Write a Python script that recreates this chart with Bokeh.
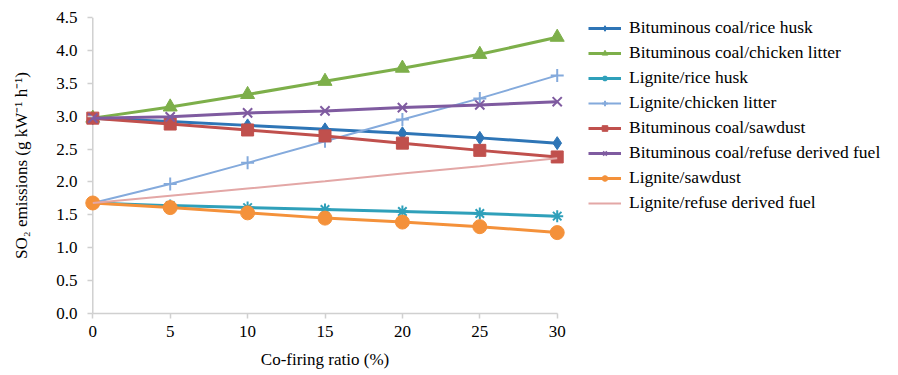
from bokeh.plotting import figure
from bokeh.models import Legend, LegendItem, Range1d, FixedTicker, CustomJSTickFormatter, Span
from bokeh.embed import file_html
from bokeh.resources import INLINE

ratios = [0, 5, 10, 15, 20, 25, 30]

bit_rice = [2.97, 2.92, 2.86, 2.80, 2.74, 2.67, 2.59]
bit_chicken = [2.97, 3.14, 3.33, 3.53, 3.73, 3.94, 4.20]
lig_rice = [1.68, 1.64, 1.61, 1.58, 1.55, 1.52, 1.48]
lig_chicken = [1.68, 1.97, 2.29, 2.62, 2.95, 3.27, 3.62]
bit_saw = [2.97, 2.88, 2.79, 2.70, 2.59, 2.48, 2.38]
bit_rdf = [2.97, 2.99, 3.05, 3.08, 3.13, 3.17, 3.22]
lig_saw = [1.68, 1.61, 1.53, 1.45, 1.39, 1.32, 1.23]
lig_rdf = [1.68, 1.79, 1.90, 2.01, 2.13, 2.24, 2.36]

names = ["Bituminous coal/rice husk", "Bituminous coal/chicken litter",
         "Lignite/rice husk", "Lignite/chicken litter",
         "Bituminous coal/sawdust", "Bituminous coal/refuse derived fuel",
         "Lignite/sawdust", "Lignite/refuse derived fuel"]
series = [bit_rice, bit_chicken, lig_rice, lig_chicken, bit_saw, bit_rdf, lig_saw, lig_rdf]
colors = ["#2E75B6", "#7DAF4A", "#2FA0BA", "#84AADC", "#C0504D", "#7F5BA0", "#F4913A", "#E3A7A6"]
markers = ["diamond", "triangle", "asterisk", "cross", "square", "x", "circle", None]
sizes = [13, 14, 12, 13, 12, 13, 14, 0]
widths = [3, 3, 3, 2, 3, 3, 3, 2]

y_ticks = [0.0, 0.5, 1.0, 1.5, 2.0, 2.5, 3.0, 3.5, 4.0, 4.5]
x_ticks = [0, 5, 10, 15, 20, 25, 30]

FONT = "Liberation Serif"
AXIS_GREY = "#D0D0D0"

p = figure(frame_width=483, frame_height=296, output_backend="svg", toolbar_location=None,
           x_range=Range1d(-0.6, 30.6), y_range=Range1d(0, 4.5),
           min_border_left=83, min_border_top=17, min_border_bottom=62, min_border_right=332)
p.outline_line_color = None
p.xgrid.grid_line_color = None
p.ygrid.grid_line_color = None

# y axis line drawn at x = 0
p.add_layout(Span(location=0, dimension="height", line_color=AXIS_GREY,
                  line_width=1.5, level="underlay"))

items = []
for name, ys, c, m, s, w in zip(names, series, colors, markers, sizes, widths):
    rs = []
    r = p.line(ratios, ys, line_color=c, line_width=w)
    rs.append(r)
    if m is not None:
        if m in ("asterisk", "cross", "x"):
            sc = p.scatter(ratios, ys, marker=m, size=s, line_color=c, line_width=2)
        else:
            sc = p.scatter(ratios, ys, marker=m, size=s, fill_color=c, line_color=c)
        rs.append(sc)
    items.append(LegendItem(label=name, renderers=rs))

for ax in (p.xaxis[0], p.yaxis[0]):
    ax.axis_line_color = AXIS_GREY
    ax.axis_line_width = 1.5
    ax.major_tick_line_color = AXIS_GREY
    ax.major_tick_line_width = 1.5
    ax.major_tick_out = 5
    ax.major_tick_in = 0
    ax.minor_tick_line_color = None
    ax.major_label_text_font = FONT
    ax.major_label_text_font_size = "17px"
    ax.major_label_text_color = "#000000"
    ax.axis_label_text_font = FONT
    ax.axis_label_text_font_size = "17px"
    ax.axis_label_text_font_style = "normal"
    ax.axis_label_text_color = "#000000"

p.xaxis.ticker = FixedTicker(ticks=x_ticks)
p.xaxis.bounds = (0, 30)
p.yaxis.ticker = FixedTicker(ticks=y_ticks)
p.yaxis.axis_line_color = None
p.yaxis.major_tick_in = 9
p.yaxis.major_tick_out = -4
p.yaxis.formatter = CustomJSTickFormatter(code="return tick.toFixed(1);")
p.xaxis.axis_label = "Co-firing ratio (%)"
p.yaxis.axis_label = "SO\u2082 emissions (g kW\u207b\u00b9 h\u207b\u00b9)"
p.xaxis.major_label_standoff = 7
p.xaxis.axis_label_standoff = 10
p.yaxis.major_label_standoff = 6
p.yaxis.axis_label_standoff = 22

legend = Legend(items=items, location=(22, 100))
legend.label_text_font = FONT
legend.label_text_font_size = "17.5px"
legend.label_text_color = "#000000"
legend.border_line_color = None
legend.background_fill_alpha = 0
legend.glyph_width = 33
legend.glyph_height = 14
legend.spacing = 4
legend.label_standoff = 8
legend.margin = 0
legend.padding = 0
legend.label_height = 20
p.add_layout(legend, "right")

open("out.html", "w").write(file_html(p, INLINE))
